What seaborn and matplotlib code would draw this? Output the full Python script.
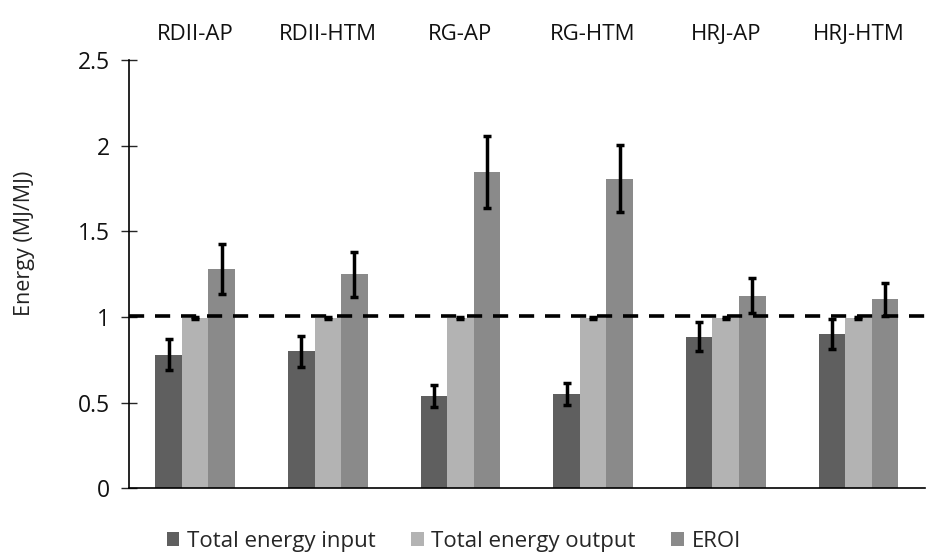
import matplotlib
matplotlib.use("Agg")
import matplotlib.pyplot as plt
import seaborn as sns
import pandas as pd
import numpy as np

categories = ["RDII-AP", "RDII-HTM", "RG-AP", "RG-HTM", "HRJ-AP", "HRJ-HTM"]
series = ["Total energy input", "Total energy output", "EROI"]
input_vals = [0.78, 0.80, 0.54, 0.55, 0.885, 0.90]
input_err = [0.09, 0.09, 0.065, 0.065, 0.085, 0.085]
output_vals = [0.995, 0.995, 0.995, 0.995, 0.995, 0.995]
output_err = [0.005, 0.005, 0.005, 0.005, 0.005, 0.005]
eroi_vals = [1.278, 1.248, 1.848, 1.808, 1.125, 1.102]
eroi_err = [0.145, 0.13, 0.21, 0.197, 0.105, 0.097]
colors = ["#5f5f5f", "#b3b3b3", "#8a8a8a"]

sns.set_theme(style="white")
plt.rcParams["font.family"] = ["Open Sans", "DejaVu Sans"]

rows = []
for s, vals in zip(series, [input_vals, output_vals, eroi_vals]):
    for c, v in zip(categories, vals):
        rows.append({"cat": c, "series": s, "val": v})
df = pd.DataFrame(rows)

fig = plt.figure(figsize=(9.34, 5.56), dpi=100)
ax = fig.add_axes([0.138, 0.122, 0.852, 0.77])
sns.barplot(data=df, x="cat", y="val", hue="series", order=categories,
            hue_order=series, palette=colors, width=0.6, gap=0,
            errorbar=None, ax=ax, saturation=1, linewidth=0)

for cont, errs in zip(ax.containers, [input_err, output_err, eroi_err]):
    xs = [p.get_x() + p.get_width() / 2 for p in cont.patches]
    ys = [p.get_height() for p in cont.patches]
    ax.errorbar(xs, ys, yerr=errs, fmt="none", ecolor="black",
                elinewidth=2.5, capsize=3, capthick=2.5, zorder=4)

ax.axhline(1.005, color="black", linestyle=(0, (4.2, 3.0)), linewidth=2.6, zorder=5)

ax.set_xlim(-0.5, 5.5)
ax.set_ylim(0, 2.5)
ax.set_yticks([0, 0.5, 1, 1.5, 2, 2.5])
ax.set_yticklabels(["0", "0.5", "1", "1.5", "2", "2.5"])
ax.set_xlabel("")
ax.set_ylabel("Energy (MJ/MJ)", fontsize=15.5, color="#222222")
ax.yaxis.set_label_coords(-0.118, 0.572)
ax.xaxis.tick_top()
ax.tick_params(axis="x", top=False, bottom=False, labelsize=16, pad=5,
               labelcolor="#111111")
ax.tick_params(axis="y", left=True, direction="inout", length=11, width=1,
               labelsize=16.5, pad=8, labelcolor="#111111")
for s in ["top", "right"]:
    ax.spines[s].set_visible(False)
for s in ["left", "bottom"]:
    ax.spines[s].set_color("black")
    ax.spines[s].set_linewidth(1.2)

leg = ax.legend(loc="center", bbox_to_anchor=(0.486, 0.026),
                bbox_transform=fig.transFigure, ncol=3,
                frameon=False, fontsize=16, handlelength=0.55,
                handleheight=0.55, handletextpad=0.35, columnspacing=1.6,
                borderpad=0)

fig.savefig("out.png", dpi=100)
